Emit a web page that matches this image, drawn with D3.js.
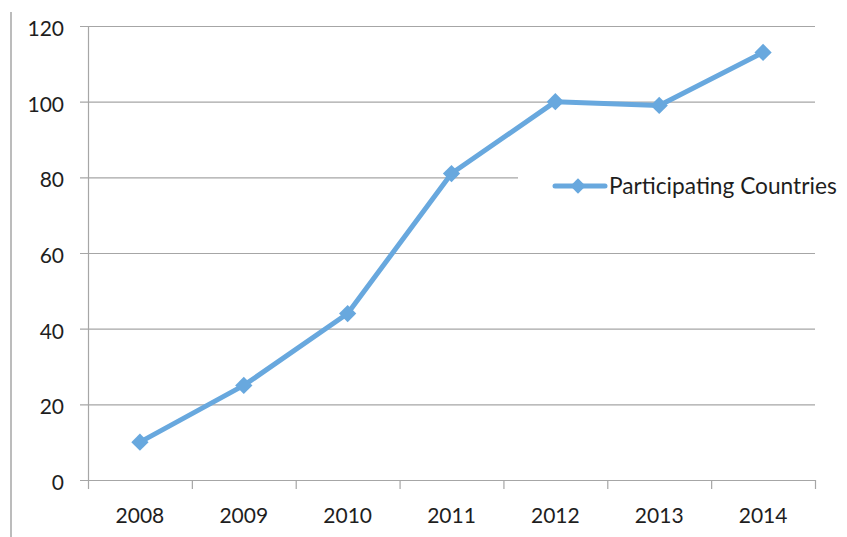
<!DOCTYPE html>
<html>
<head>
<meta charset="utf-8">
<script src="https://cdn.jsdelivr.net/npm/d3@7"></script>
<style>
  body { margin: 0; background: #fff; }
  text { font-family: Lato, "Open Sans", sans-serif; fill: #1e1e1e; }
</style>
</head>
<body>
<div id="container"></div>
<script>
const years = ["2008", "2009", "2010", "2011", "2012", "2013", "2014"];
const countries = [10, 25, 44, 81, 100, 99, 113];
const yTicks = [0, 20, 40, 60, 80, 100, 120];
const seriesName = "Participating Countries";

function draw() {
    const width = 847;
    const height = 537;
    const left = 88, right = 815, top = 26, bottom = 480;
    const lineColor = "#68a8de";
    const gridColor = "#a6a6a6";
    const fontSize = "21px";

    const svg = d3.select('#container')
        .append('svg')
        .attr('width', width)
        .attr('height', height);

    // frame line at far left
    svg.append("line")
        .attr("x1", 11).attr("x2", 11)
        .attr("y1", 12).attr("y2", height)
        .attr("stroke", gridColor).attr("stroke-width", 1.5);

    const x = d3.scaleBand().domain(years).range([left, right]);
    const y = d3.scaleLinear().domain([0, 120]).range([bottom, top]);

    // gridlines
    svg.append("g").selectAll("line")
        .data(yTicks)
        .join("line")
        .attr("x1", left - 8)
        .attr("x2", right)
        .attr("y1", d => y(d) + 0.5)
        .attr("y2", d => y(d) + 0.5)
        .attr("stroke", gridColor)
        .attr("stroke-width", 1.2);

    // y axis
    svg.append("line")
        .attr("x1", left + 0.5).attr("x2", left + 0.5)
        .attr("y1", y(120)).attr("y2", y(0))
        .attr("stroke", gridColor).attr("stroke-width", 1.2);

    svg.append("g").selectAll("text")
        .data(yTicks)
        .join("text")
        .attr("x", 64)
        .attr("y", d => y(d) + 10)
        .attr("text-anchor", "end")
        .style("font-size", fontSize)
        .text(d => d);

    // x ticks between categories
    const xTickPos = years.map(d => x(d)).concat([right]);
    svg.append("g").selectAll("line")
        .data(xTickPos)
        .join("line")
        .attr("x1", d => d + 0.5)
        .attr("x2", d => d + 0.5)
        .attr("y1", bottom)
        .attr("y2", bottom + 9)
        .attr("stroke", gridColor)
        .attr("stroke-width", 1.2);

    svg.append("g").selectAll("text")
        .data(years)
        .join("text")
        .attr("x", d => x(d) + x.bandwidth() / 2)
        .attr("y", 523)
        .attr("text-anchor", "middle")
        .style("font-size", fontSize)
        .text(d => d);

    // legend background hides part of the gridline
    svg.append("rect")
        .attr("x", 518).attr("y", 140)
        .attr("width", 329).attr("height", 90)
        .attr("fill", "#fff");

    // series line
    const line = d3.line()
        .x((d, i) => x(years[i]) + x.bandwidth() / 2)
        .y(d => y(d));

    svg.append("path")
        .datum(countries)
        .attr("d", line)
        .attr("fill", "none")
        .attr("stroke", lineColor)
        .attr("stroke-width", 5)
        .attr("stroke-linejoin", "round");

    const diamond = d3.symbol().type(d3.symbolDiamond2).size(190);
    svg.append("g").selectAll("path")
        .data(countries)
        .join("path")
        .attr("d", diamond)
        .attr("transform", (d, i) => `translate(${x(years[i]) + x.bandwidth() / 2},${y(d)})`)
        .attr("fill", lineColor);

    // legend
    const lg = svg.append("g");
    lg.append("line")
        .attr("x1", 555).attr("x2", 605)
        .attr("y1", 186).attr("y2", 186)
        .attr("stroke", lineColor)
        .attr("stroke-width", 5)
        .attr("stroke-linecap", "round");
    lg.append("path")
        .attr("d", d3.symbol().type(d3.symbolDiamond2).size(150))
        .attr("transform", "translate(578,186)")
        .attr("fill", lineColor);
    lg.append("text")
        .attr("x", 609)
        .attr("y", 194)
        .style("font-size", "22.7px")
        .text(seriesName);
}
draw();
</script>
</body>
</html>
